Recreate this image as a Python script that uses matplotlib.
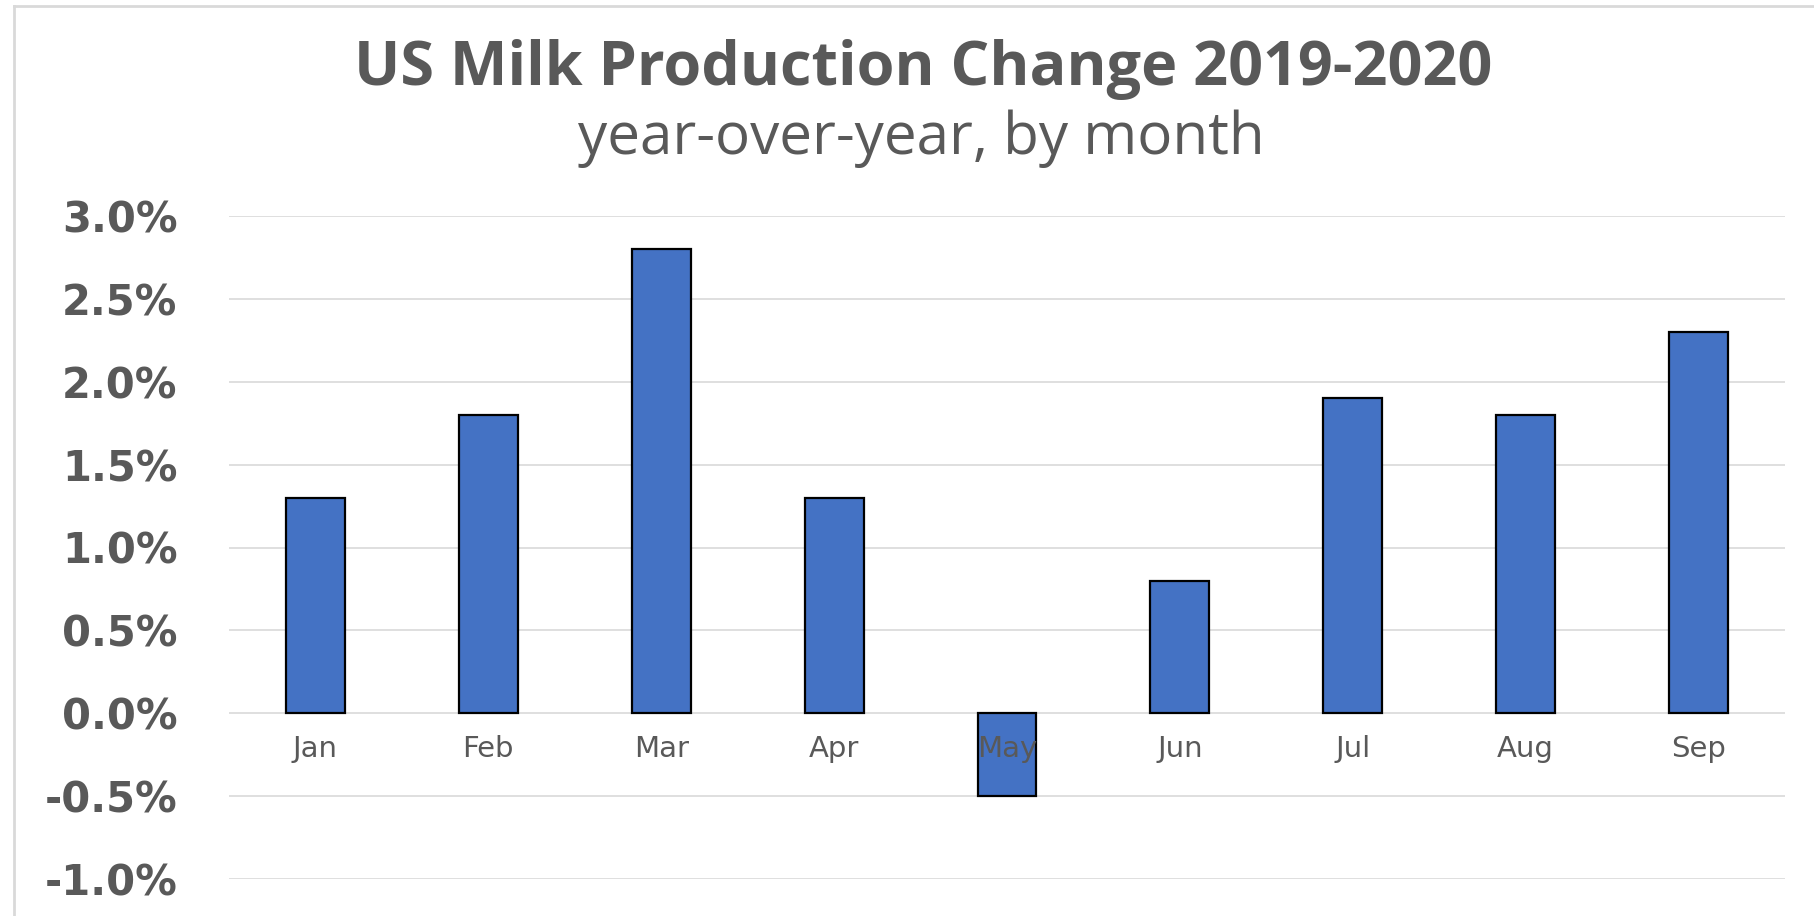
import matplotlib
matplotlib.use("Agg")
import matplotlib.pyplot as plt
from matplotlib.lines import Line2D
from matplotlib.ticker import FuncFormatter, MultipleLocator

months = ["Jan", "Feb", "Mar", "Apr", "May", "Jun", "Jul", "Aug", "Sep"]
yoy_change = [1.3, 1.8, 2.8, 1.3, -0.5, 0.8, 1.9, 1.8, 2.3]
title = "US Milk Production Change 2019-2020"
subtitle = "year-over-year, by month"

W, H = 1814, 916
fig = plt.figure(figsize=(W / 100, H / 100), dpi=100)
fig.patch.set_facecolor("white")

ax = fig.add_axes([229 / W, 37 / H, (1785 - 229) / W, (879 - 216) / H])
x = list(range(len(months)))
ax.bar(x, yoy_change, width=0.34, color="#4472C4", edgecolor="black",
       linewidth=1.6, zorder=3)

ax.set_xlim(-0.5, len(months) - 0.5)
ax.set_ylim(-1.0, 3.0)
ax.yaxis.set_major_locator(MultipleLocator(0.5))
ax.yaxis.set_major_formatter(FuncFormatter(lambda v, p: f"{v:.1f}%"))
ax.grid(axis="y", color="#d9d9d9", linewidth=1.2)
ax.set_axisbelow(True)
for s in ax.spines.values():
    s.set_visible(False)
ax.spines["bottom"].set_position(("data", 0))

ax.set_xticks(x)
ax.set_xticklabels(months)
ax.tick_params(axis="x", length=0, pad=16, labelsize=21, labelcolor="#595959")
ax.tick_params(axis="y", length=0, pad=37, labelsize=30, labelcolor="#595959")
ax.xaxis.set_zorder(4)
for lab in ax.get_yticklabels():
    lab.set_fontweight("bold")
    lab.set_family("DejaVu Sans")

fig.text(923 / W, 1 - 70 / H, title, ha="center", va="center",
         fontsize=44, fontweight="bold", color="#595959", family="Open Sans")
fig.text(921 / W, 1 - 139 / H, subtitle, ha="center", va="center",
         fontsize=42, color="#595959", family="Open Sans")

# chart-area border (left and top edges visible in the crop)
fig.add_artist(Line2D([14 / W, 14 / W], [0, 1 - 6 / H], transform=fig.transFigure,
                      color="#d9d9d9", linewidth=2))
fig.add_artist(Line2D([14 / W, 1], [1 - 6 / H, 1 - 6 / H], transform=fig.transFigure,
                      color="#d9d9d9", linewidth=2))

fig.savefig("out.png", dpi=100, facecolor="white")
